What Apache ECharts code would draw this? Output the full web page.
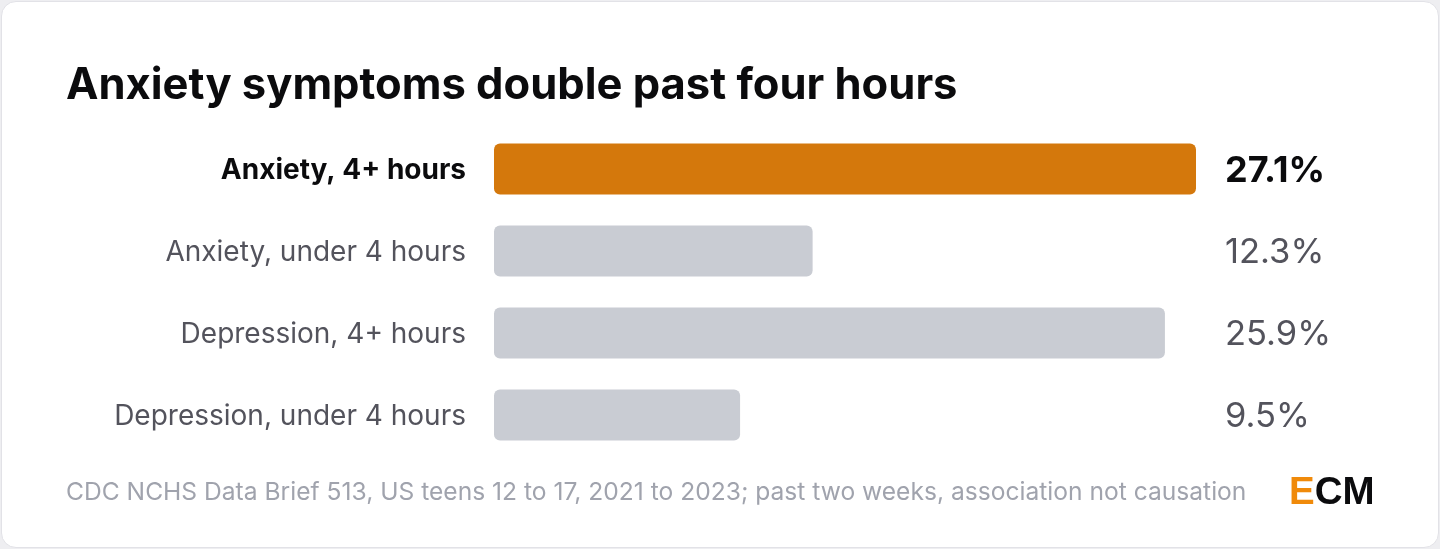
<!DOCTYPE html>
<html lang="en">
<head>
<meta charset="utf-8">
<title>Anxiety symptoms double past four hours</title>
<script src="https://cdn.jsdelivr.net/npm/echarts@6/dist/echarts.min.js"></script>
<style>
html, body { margin: 0; padding: 0; background: #eeeef1; }
#card {
	position: absolute; left: 1px; top: 1px; width: 1436px; height: 545px;
	background: #ffffff; border: 1px solid #e2e2e7; border-radius: 15px; overflow: hidden;
}
#main { width: 1436px; height: 545px; }
</style>
</head>
<body>
<div id="card"><div id="main"></div></div>
<script>
	// data
	var categories = ['Anxiety, 4+ hours', 'Anxiety, under 4 hours', 'Depression, 4+ hours', 'Depression, under 4 hours'];
	var values = [27.1, 12.3, 25.9, 9.5];
	var highlight = 0; // index of the orange bar

	var titleText = 'Anxiety symptoms double past four hours';
	var sourceText = 'CDC NCHS Data Brief 513, US teens 12 to 17, 2021 to 2023; past two weeks, association not causation';

	// category axis runs top to bottom
	var catsRev = categories.slice().reverse();
	var valsRev = values.slice().reverse();
	var hiRev = categories.length - 1 - highlight;

	var myChart = echarts.init(document.getElementById('main'));

	var option = {
		animation: false,
		textStyle: { fontFamily: 'Inter' },
		title: {
			text: titleText,
			left: 64,
			top: 62,
			padding: 0,
			textStyle: { fontFamily: 'Inter', fontSize: 43.5, fontWeight: 'bold', color: '#0b0b0d' }
		},
		grid: { left: 492, right: 242, top: 126, height: 328, containLabel: false },
		xAxis: {
			type: 'value', min: 0, max: 27.1,
			show: false
		},
		yAxis: [{
			type: 'category',
			data: catsRev,
			axisLine: { show: false },
			axisTick: { show: false },
			axisLabel: {
				margin: 28,
				fontSize: 28,
				fontFamily: 'Inter',
				color: '#53535c',
				padding: [4, 0, 0, 0],
				formatter: function (v, i) { return i === hiRev ? '{b|' + v + '}' : v; },
				rich: { b: { fontWeight: 'bold', fontSize: 28, fontFamily: 'Inter', color: '#0b0b0d' } }
			}
		}, {
			type: 'category',
			position: 'right',
			data: valsRev.map(function (v) { return v.toFixed(1) + '%'; }),
			axisLine: { show: false },
			axisTick: { show: false },
			axisLabel: {
				margin: 29,
				align: 'left',
				fontSize: 34.5,
				fontFamily: 'Inter',
				color: '#53535c',
				padding: [4, 0, 0, 0],
				formatter: function (v, i) { return i === hiRev ? '{b|' + v + '}' : v; },
				rich: { b: { fontWeight: 'bold', fontSize: 36, fontFamily: 'Inter', color: '#0b0b0d' } }
			}
		}],
		series: [{
			type: 'bar',
			data: valsRev.map(function (v, i) {
				return {
					value: v,
					itemStyle: { color: i === hiRev ? '#d4780c' : '#c9ccd3' }
				};
			}),
			barWidth: 51,
			itemStyle: { borderRadius: 6 },
			silent: true
		}],
		graphic: [{
			type: 'text',
			left: 64,
			top: 478,
			style: { text: sourceText, font: '24.6px Inter', fill: '#a0a3ad' }
		}, {
			type: 'text',
			left: 1287,
			top: 472,
			style: {
				text: '{e|E}{cm|CM}',
				rich: {
					e: { font: 'bold 38.5px "Liberation Sans"', fill: '#f08a0a' },
					cm: { font: 'bold 38.5px "Liberation Sans"', fill: '#0b0b0d' }
				}
			}
		}]
	};
	myChart.setOption(option);
</script>
</body>
</html>
